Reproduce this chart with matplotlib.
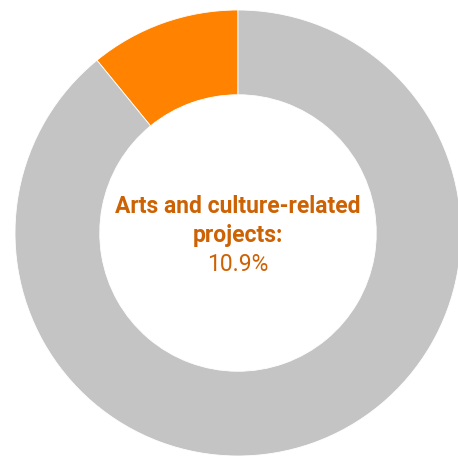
import matplotlib
matplotlib.use("Agg")
import matplotlib.pyplot as plt

# Share of funded projects
labels = ["Arts and culture-related projects", "Other projects"]
shares = [10.9, 89.1]
colors = ["#FF8300", "#C4C4C4"]

fig = plt.figure(figsize=(4.58, 4.60), dpi=100)
ax = fig.add_axes([0, 0, 1, 1])

ax.pie(
    shares,
    colors=colors,
    startangle=90,
    counterclock=True,
    radius=1.0,
    wedgeprops=dict(width=0.38, edgecolor="white", linewidth=0.6),
)

ax.set_xlim(-238 / 223, (458 - 238) / 223)
ax.set_ylim((234 - 460) / 223, 234 / 223)
ax.set_aspect("equal")
ax.axis("off")

text_color = "#CC6204"
font = ["Roboto", "DejaVu Sans"]
ax.text(0, (234 - 213) / 223, "Arts and culture-related", ha="center", va="baseline",
        fontsize=16.5, fontweight="bold", color=text_color, family=font)
ax.text(0, (234 - 242) / 223, "projects:", ha="center", va="baseline",
        fontsize=16.5, fontweight="bold", color=text_color, family=font)
ax.text(0, (234 - 271) / 223, f"{shares[0]}%", ha="center", va="baseline",
        fontsize=16.5, color=text_color, family=font)

fig.savefig("out.png", dpi=100)
